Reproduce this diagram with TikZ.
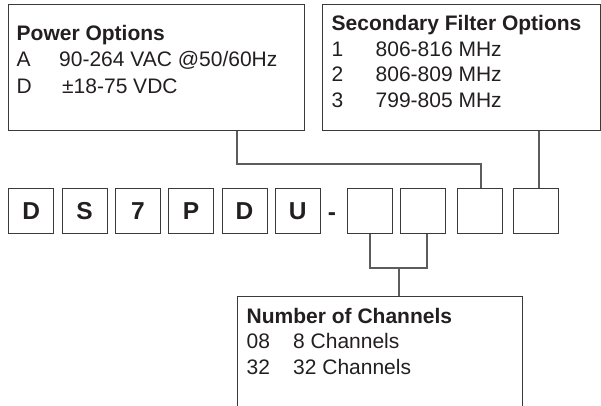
\documentclass[tikz,border=0pt]{standalone}
\usepackage{fontspec}
\setmainfont{Liberation Sans}
\definecolor{ink}{HTML}{231F20}
\definecolor{framec}{HTML}{3A3A3A}
\definecolor{wirec}{HTML}{5C5C5C}
\begin{document}
\begin{tikzpicture}[x=1pt,y=-1pt,
  optbox/.style={draw=framec, line width=0.9pt, inner sep=0pt, anchor=north west},
  codebox/.style={draw=framec, line width=0.9pt, minimum width=45pt, minimum height=45pt,
    inner sep=0pt, anchor=north west, text=ink, font=\fontsize{24.5}{24.5}\selectfont\bfseries},
  txt/.style={anchor=base west, inner sep=0pt, text=ink, font=\fontsize{21}{25}\selectfont},
  ttl/.style={anchor=base west, inner sep=0pt, text=ink, font=\fontsize{21}{25}\selectfont\bfseries},
  wire/.style={draw=wirec, line width=1.1pt}]
\useasboundingbox (0,0) rectangle (601,406);

% option boxes
\node[optbox, minimum width=296pt, minimum height=126pt] (pwr) at (7.5,4) {};
\node[optbox, minimum width=277.5pt, minimum height=126pt] (flt) at (322,4) {};
\node[optbox, minimum width=285pt, minimum height=140pt] (chn) at (237,296) {};

% power text
\node[ttl] (pt) at (16.5,41) {Power Options};
\node[txt] (pa1) at (16.5,67) {A};
\node[txt] (pa2) at (59,67) {90-264 VAC @50/60Hz};
\node[txt] (pd1) at (16.5,94) {D};
\node[txt] (pd2) at (62,94) {±18-75 VDC};

% filter text
\node[ttl] (ft) at (331.5,31) {Secondary Filter Options};
\node[txt] (f1a) at (331.5,56.5) {1};
\node[txt] (f1b) at (375.5,56.5) {806-816 MHz};
\node[txt] (f2a) at (331.5,82) {2};
\node[txt] (f2b) at (375.5,82) {806-809 MHz};
\node[txt] (f3a) at (331.5,107.5) {3};
\node[txt] (f3b) at (375.5,107.5) {799-805 MHz};

% channels text
\node[ttl] (ct) at (246.5,323) {Number of Channels};
\node[txt] (c1a) at (246.5,348.5) {08};
\node[txt] (c1b) at (293,348.5) {8 Channels};
\node[txt] (c2a) at (246.5,374) {32};
\node[txt] (c2b) at (293,374) {32 Channels};

% code boxes
\node[codebox] (k1) at (8.3,188) {D};
\node[codebox] (k2) at (61.6,188) {S};
\node[codebox] (k3) at (114.9,188) {7};
\node[codebox] (k4) at (168.2,188) {P};
\node[codebox] (k5) at (221.5,188) {D};
\node[codebox] (k6) at (274.8,188) {U};
\node[anchor=base, inner sep=0pt, text=ink, font=\fontsize{24.5}{24.5}\selectfont\bfseries] (dash) at (332,220) {-};
\node[codebox] (e1) at (347,188) {};
\node[codebox] (e2) at (400,188) {};
\node[codebox] (e3) at (456.7,188) {};
\node[codebox] (e4) at (513,188) {};

% connectors
\coordinate (pa) at (237,164);
\coordinate (pb) at (481,164);
\draw[wire] (pa |- pwr.south) -- (pa) -- (pb) -- (pb |- e3.north);

\coordinate (fa) at (539,150);
\draw[wire] (fa |- flt.south) -- (fa |- e4.north);

\coordinate (jn) at (399,268);
\coordinate (kk) at (427,268);
\draw[wire] (e1.south) -- (e1.south |- jn) -- (kk) -- (kk |- e2.south);
\draw[wire] (jn) -- (jn |- chn.north);
\end{tikzpicture}
\end{document}
